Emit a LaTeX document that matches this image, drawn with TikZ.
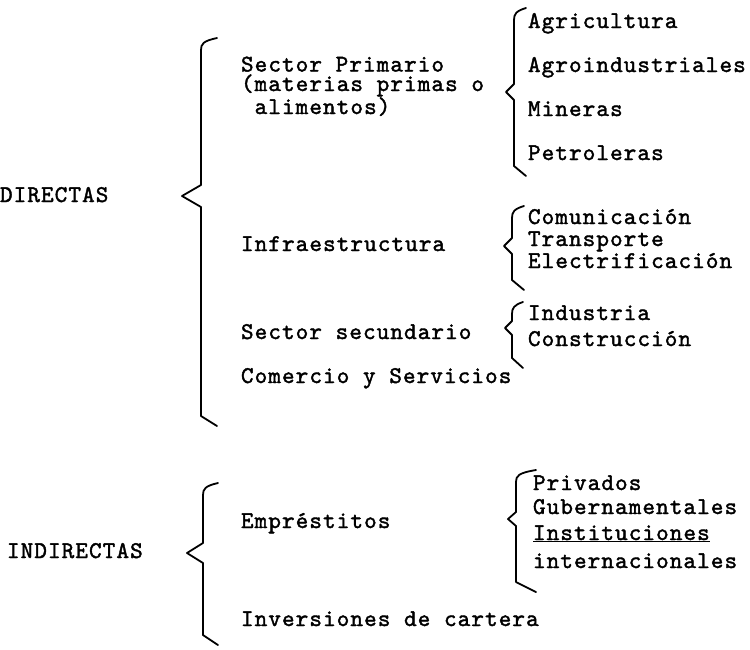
\documentclass[tikz,border=0pt]{standalone}
\usepackage{fontspec}
\newfontfamily\typewriter{lmmono10-regular.otf}[LetterSpace=4.5,FakeBold=1.6]
\newcommand{\typebrace}[7]{% spine x, top y, tip x, tip y, bottom y, hook dx, tip half height
  \draw[bracepen] ({#1+#6},{#2}) .. controls ({#1+2},{#2+3}) and ({#1},{#2+6}) .. ({#1},{#2+12})
    -- ({#1},{#4-#7}) -- ({#3},{#4}) -- ({#1},{#4+#7}) -- ({#1},{#5-10}) -- ({#1+#6},{#5});}
\begin{document}
\begin{tikzpicture}[x=1pt,y=-1pt,
  txt/.style={anchor=base west,inner sep=0pt,outer sep=0pt,
    font=\typewriter\fontsize{24}{19.5}\selectfont,align=left},
  bracepen/.style={line width=1.8pt,line join=round,line cap=round,black}]
\useasboundingbox (0,0) rectangle (750,649);
% top level
\node[txt] (dir) at (0,202) {DIRECTAS};
\node[txt] (ind) at (7,558) {INDIRECTAS};
% directas braces
\typebrace{201}{38}{182}{196}{426}{16}{11}
\typebrace{203}{483}{187}{553}{645}{15}{10}
% second level
\node[txt] (sp) at (241,114) {Sector Primario\\(materias primas o\\~alimentos)};
\node[txt] (inf) at (241,251) {Infraestructura};
\node[txt] (ss) at (241,339) {Sector secundario};
\node[txt] (cs) at (241,383) {Comercio y Servicios};
\node[txt] (emp) at (241,528) {Empréstitos};
\node[txt] (inv) at (241,626) {Inversiones de cartera};
% third level braces
\typebrace{514}{8}{506}{92}{176}{12}{8}
\typebrace{512}{206}{504}{246}{290}{12}{8}
\typebrace{512}{302}{505}{328}{368}{11}{7}
\typebrace{516}{470}{508}{519}{592}{20}{7}
% third level
\node[txt] (agr) at (528,28) {Agricultura};
\node[txt] (agi) at (528,72) {Agroindustriales};
\node[txt] (min) at (528,116) {Mineras};
\node[txt] (pet) at (528,160) {Petroleras};
\node[txt] (com) at (528,224) {Comunicación};
\node[txt] (tra) at (528,246) {Transporte};
\node[txt] (ele) at (528,268) {Electrificación};
\node[txt] (indu) at (528,320) {Industria};
\node[txt] (cons) at (528,346) {Construcción};
\node[txt] (pri) at (533,490) {Privados};
\node[txt] (gub) at (533,514) {Gubernamentales};
\node[txt] (ins) at (533,540) {\underline{Instituciones}};
\node[txt] (int) at (533,568) {internacionales};
\end{tikzpicture}
\end{document}
